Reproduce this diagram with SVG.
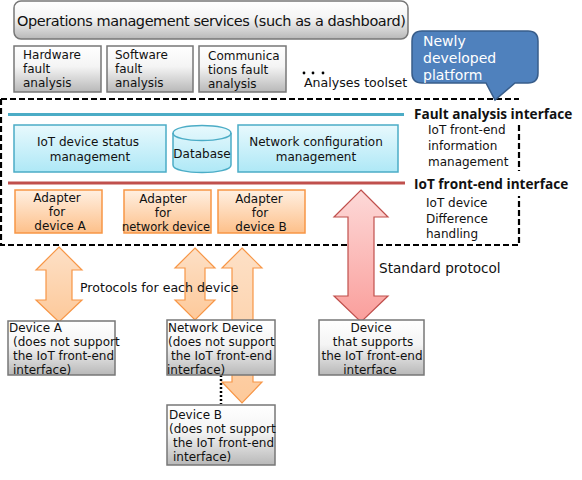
<svg xmlns="http://www.w3.org/2000/svg" width="582" height="480" viewBox="0 0 582 480">
<style>
text{font-family:"DejaVu Sans","Open Sans","Liberation Sans",sans-serif;font-size:12px;fill:#111}
.m{text-anchor:middle}
.b{font-family:"Open Sans","Noto Sans",sans-serif;font-weight:700;font-size:13.6px}
.gray{fill:url(#g);stroke:#777;stroke-width:1.5}
.cy{fill:url(#c);stroke:#4bacc6;stroke-width:1.5}
.or{fill:url(#o);stroke:#f79646;stroke-width:1.5}
.ar{fill:url(#oa);stroke:#f79646;stroke-width:1.2}
.frame{fill:none;stroke:#000;stroke-width:2.2;stroke-dasharray:6 3}
.w{fill:#fff;font-size:14px}
</style>
<defs>
<linearGradient id="g" x1="0" y1="0" x2="0" y2="1"><stop offset="0" stop-color="#fff"/><stop offset=".45" stop-color="#f4f4f4"/><stop offset="1" stop-color="#b8b8b8"/></linearGradient>
<linearGradient id="c" x1="0" y1="0" x2="0" y2="1"><stop offset="0" stop-color="#e8f9fd"/><stop offset="1" stop-color="#aee8f6"/></linearGradient>
<linearGradient id="o" x1="0" y1="0" x2="0" y2="1"><stop offset="0" stop-color="#fff0e2"/><stop offset="1" stop-color="#fdc08a"/></linearGradient>
<linearGradient id="oa" x1="0" y1="0" x2="0" y2="1"><stop offset="0" stop-color="#fde0c6"/><stop offset="1" stop-color="#fdc99a"/></linearGradient>
<linearGradient id="ra" x1="0" y1="0" x2="0" y2="1"><stop offset="0" stop-color="#fdd9d8"/><stop offset="1" stop-color="#fa9e9b"/></linearGradient>
</defs>
<g id="connectors">
<path id="frame-top" class="frame" d="M1 99H519"/>
<path id="frame-left" class="frame" d="M1 99V245H519V196"/>
<path id="frame-right" class="frame" d="M519 125V171"/>
<path id="fault-line" d="M8 114.5H404" stroke="#4bacc6" stroke-width="3" fill="none"/>
<path id="iot-line" d="M8 183H405" stroke="#c0504d" stroke-width="3" fill="none"/>
<path id="arrow-a" class="ar" d="M59 247L82 270H72V300H82L59 322L36 300H46V270H36Z"/>
<path id="arrow-net" class="ar" d="M195 248L215 268H205V300H215L195 320L175 300H185V268H175Z"/>
<path id="arrow-b" class="ar" d="M242 248L262 268H253V382H262L242 403L222 382H232V268H222Z"/>
<path id="arrow-std" d="M361 190L388 217H374V296H388L361 322L334 296H348V217H334Z" fill="url(#ra)" stroke="#c0504d" stroke-width="1.2"/>
<path id="dotted" d="M221 375V404" stroke="#000" stroke-width="2.5" stroke-dasharray="2 2" fill="none"/>
</g>
<g id="ops"><rect class="gray" x="14" y="1" width="394" height="38" rx="7"/><text x="17" y="26" style="font-size:14.5px" textLength="389" lengthAdjust="spacing">Operations management services (such as a dashboard)</text></g>
<g id="hw"><rect class="gray" x="14" y="46" width="87" height="46"/><text x="23" y="59">Hardware</text><text x="23" y="73">fault</text><text x="23" y="87">analysis</text></g>
<g id="sw"><rect class="gray" x="107" y="46" width="86" height="46"/><text x="115" y="59">Software</text><text x="115" y="73">fault</text><text x="115" y="87">analysis</text></g>
<g id="comm"><rect class="gray" x="199" y="46" width="87" height="46"/><text x="208" y="60">Communica</text><text x="208" y="74">tions fault</text><text x="208" y="88">analysis</text></g>
<g id="toolset"><circle cx="304" cy="73" r="1.4"/><circle cx="313" cy="73" r="1.4"/><circle cx="323" cy="73" r="1.4"/><text x="304" y="87" style="font-size:12.6px">Analyses toolset</text></g>
<g id="callout"><path d="M422 31H528Q538 31 538 41V73Q538 83 528 83H515L495 100L486 83H422Q412 83 412 73V41Q412 31 422 31Z" fill="#4f81bd" stroke="#385d8a" stroke-width="1.5"/><text class="w" x="423" y="46">Newly</text><text class="w" x="423" y="63">developed</text><text class="w" x="423" y="80">platform</text></g>
<g id="status"><rect class="cy" x="14" y="125" width="152" height="47"/><text class="m" x="88" y="146">IoT device status</text><text class="m" x="90" y="161">management</text></g>
<g id="db"><path class="cy" d="M173 133C173 123 231 123 231 133V165C231 175 173 175 173 165Z"/><path d="M173 133C173 143 231 143 231 133" fill="none" stroke="#4bacc6" stroke-width="1.5"/><text class="m" x="202" y="158">Database</text></g>
<g id="netcfg"><rect class="cy" x="238" y="125" width="160" height="47"/><text class="m" x="316" y="146">Network configuration</text><text class="m" x="316" y="161">management</text></g>
<g id="ad-a"><rect class="or" x="15" y="190" width="87" height="43"/><text class="m" x="57" y="202">Adapter</text><text class="m" x="57" y="216">for</text><text class="m" x="60" y="230">device A</text></g>
<g id="ad-n"><rect class="or" x="124" y="190" width="87" height="43"/><text class="m" x="163" y="203">Adapter</text><text class="m" x="163" y="217">for</text><text class="m" x="166" y="231" style="font-size:11.5px">network device</text></g>
<g id="ad-b"><rect class="or" x="218" y="190" width="87" height="43"/><text class="m" x="259" y="203">Adapter</text><text class="m" x="260" y="217">for</text><text class="m" x="261" y="231">device B</text></g>
<text class="b" x="414" y="119">Fault analysis interface</text>
<text class="b" x="414" y="189">IoT front-end interface</text>
<g id="note1"><text x="428" y="134">IoT front-end</text><text x="428" y="150">information</text><text x="428" y="166">management</text></g>
<g id="note2"><text x="426" y="207">IoT device</text><text x="426" y="223">Difference</text><text x="426" y="238">handling</text></g>
<text x="80" y="292" style="font-size:12.6px">Protocols for each device</text>
<text x="379" y="273" style="font-size:13.6px">Standard protocol</text>
<g id="dev-a"><rect class="gray" x="8" y="321" width="107" height="54"/><text x="9" y="332">Device A</text><text x="13" y="346">(does not support</text><text x="13" y="360">the IoT front-end</text><text x="13" y="374">interface)</text></g>
<g id="dev-n"><rect class="gray" x="167" y="320" width="108" height="55"/><text x="168" y="332">Network Device</text><text x="168" y="346">(does not support</text><text x="171" y="360">the IoT front-end</text><text x="167" y="374">interface)</text></g>
<g id="dev-b"><rect class="gray" x="167" y="405" width="108" height="60"/><text x="169" y="419">Device B</text><text x="169" y="433">(does not support</text><text x="173" y="447">the IoT front-end</text><text x="173" y="461">interface)</text></g>
<g id="dev-s"><rect class="gray" x="319" y="320" width="105" height="55"/><text class="m" x="371" y="332">Device</text><text class="m" x="373" y="346">that supports</text><text class="m" x="372" y="360">the IoT front-end</text><text class="m" x="370" y="374">interface</text></g>
</svg>
